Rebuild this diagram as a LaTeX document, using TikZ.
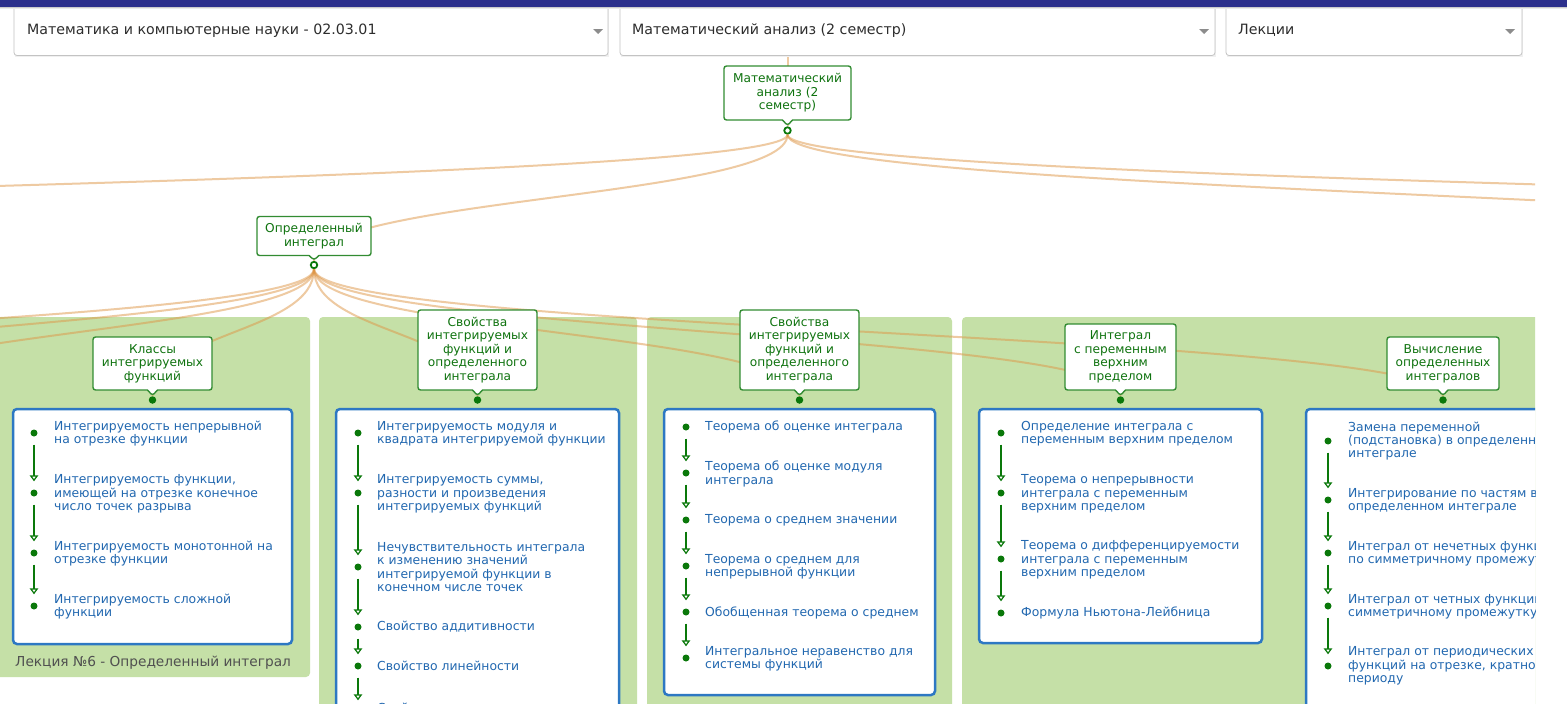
\documentclass[tikz,border=0pt]{standalone}
\usepackage{fontspec}
\setmainfont{DejaVu Sans}
\usetikzlibrary{shapes.callouts, arrows.meta, calc}

\definecolor{barblue}{RGB}{44,48,140}
\definecolor{edgeor}{RGB}{222,150,70}
\definecolor{panelgreen}{RGB}{197,224,167}
\definecolor{boxblue}{RGB}{45,120,195}
\definecolor{itemblue}{RGB}{34,104,176}
\definecolor{nodegreen}{RGB}{50,140,50}
\definecolor{textgreen}{RGB}{15,115,15}
\definecolor{dotgreen}{RGB}{10,120,10}
\definecolor{ddgray}{RGB}{195,195,195}
\definecolor{ddtext}{RGB}{45,45,45}
\definecolor{labelgray}{RGB}{80,80,80}

\newcommand\myitemfont{\fontsize{12.4}{13.3}\selectfont}
\newcommand\mytopicfont{\fontsize{12.2}{13.6}\selectfont}
\newcommand\myddfont{\fontsize{14.2}{16}\selectfont}
\newcommand\mylblfont{\fontsize{13.7}{16}\selectfont}

\newcommand\tie[2]{\path ($(#1)!.5!(#2)$) coordinate (mm);
  \draw[edge] (#1) .. controls (#1 |- mm) and (#2 |- mm) .. (#2);}

\tikzset{
 edge/.style={draw=edgeor, draw opacity=0.5, line width=2pt},
 panel/.style={fill=panelgreen, rounded corners=4pt},
 topic/.style={rectangle callout, draw=nodegreen, line width=1.4pt, fill=white,
   rounded corners=2.5pt, align=center, text=textgreen, font=\mytopicfont,
   inner sep=0pt, callout pointer width=10pt},
 ring/.style={circle, draw=dotgreen, line width=1.8pt, fill=white, inner sep=0pt, minimum size=6.5pt},
 gdot/.style={circle, fill=dotgreen, inner sep=0pt, minimum size=7.5pt},
 idot/.style={circle, fill=dotgreen, inner sep=0pt, minimum size=7pt},
 ibox/.style={draw=boxblue, line width=2.5pt, fill=white, rounded corners=4pt},
 item/.style={anchor=west, align=left, inner sep=0pt, text=itemblue, font=\myitemfont},
 flow/.style={draw=dotgreen, line width=1.3pt, shorten <=8pt, shorten >=8pt,
   -{Triangle[open, width=8.5pt, length=6pt, line width=1.2pt]}},
 ddbox/.style={draw=ddgray, fill=white, rounded corners=3pt, line width=0.8pt},
 ddtxt/.style={anchor=west, inner sep=0pt, text=ddtext, font=\myddfont},
 ddarrow/.style={fill=black!45},
 lbl/.style={anchor=west, inner sep=0pt, text=labelgray, font=\mylblfont},
}

\begin{document}
\begin{tikzpicture}[x=1pt,y=-1pt]
\useasboundingbox (0,0) rectangle (1567,704);
\fill[white] (0,0) rectangle (1567,704);

\begin{scope}
\clip (0,0) rectangle (1535,704);
% lecture panels
\fill[panel] (-10,317) rectangle (310,677);
\fill[panel] (319,317) rectangle (637,720);
\fill[panel] (647,317) rectangle (952,720);
\fill[panel] (962,317) rectangle (1560,720);
\node[lbl] (lab) at (15,663) {Лекция №6 - Определенный интеграл};

% connection points
\node[ring] (rr) at (787.5,130.5) {};
\node[ring] (ri) at (314,265) {};
\node[gdot] (dKl) at (152.5,400) {};
\node[gdot] (dS1) at (477.5,400) {};
\node[gdot] (dS2) at (799.5,400) {};
\node[gdot] (dIn) at (1120.5,400) {};
\node[gdot] (dVy) at (1443,400) {};
\coordinate (upR) at (787.5,40);
\coordinate (offA) at (-1700,265);
\coordinate (offB) at (3318,265);
\coordinate (offC) at (2198,265);
\coordinate (offD) at (-798,400);
\coordinate (offE) at (-464,400);
\coordinate (offF) at (-170,400);

% tree edges
\draw[edge] (upR) -- (rr);
\tie{rr}{offA}
\tie{rr}{ri}
\tie{rr}{offB}
\tie{rr}{offC}
\tie{ri}{offD}
\tie{ri}{offE}
\tie{ri}{offF}
\tie{ri}{dKl}
\tie{ri}{dS1}
\tie{ri}{dS2}
\tie{ri}{dIn}
\tie{ri}{dVy}

% topic nodes
\node[topic, minimum width=127pt, minimum height=54pt, callout absolute pointer={(787.5,125.5)}]
  (root) at (787.5,93) {Математический\\анализ (2\\семестр)};
\node[topic, minimum width=114pt, minimum height=39pt, callout absolute pointer={(314,260)}]
  (opr) at (314,236) {Определенный\\интеграл};
\node[topic, minimum width=119pt, minimum height=53pt, callout absolute pointer={(152.5,395.5)}]
  (kl) at (152.5,363.5) {Классы\\интегрируемых\\функций};
\node[topic, minimum width=119pt, minimum height=80pt, callout absolute pointer={(477.5,395.5)}]
  (s1) at (477.5,350) {Свойства\\интегрируемых\\функций и\\определенного\\интеграла};
\node[topic, minimum width=119pt, minimum height=80pt, callout absolute pointer={(799.5,395.5)}]
  (s2) at (799.5,350) {Свойства\\интегрируемых\\функций и\\определенного\\интеграла};
\node[topic, minimum width=111pt, minimum height=66pt, callout absolute pointer={(1120.5,395.5)}]
  (in) at (1120.5,357) {Интеграл\\с переменным\\верхним\\пределом};
\node[topic, minimum width=112pt, minimum height=53pt, callout absolute pointer={(1443,395.5)}]
  (vy) at (1443,363.5) {Вычисление\\определенных\\интегралов};

% topic boxes
\draw[ibox] (13,409) rectangle (292,644);
\draw[ibox] (336,409) rectangle (619,730);
\draw[ibox] (664,409) rectangle (935,695);
\draw[ibox] (979,409) rectangle (1262,643);
\draw[ibox] (1306,409) rectangle (1580,730);

% box 1
\node[idot] (a1) at (34,433) {};
\node[idot] (a2) at (34,493) {};
\node[idot] (a3) at (34,553) {};
\node[idot] (a4) at (34,606) {};
\node[item] (ta1) at (54,433.5) {Интегрируемость непрерывной\\на отрезке функции};
\node[item] (ta2) at (54,494) {Интегрируемость функции,\\имеющей на отрезке конечное\\число точек разрыва};
\node[item] (ta3) at (54,553.5) {Интегрируемость монотонной на\\отрезке функции};
\node[item] (ta4) at (54,606.5) {Интегрируемость сложной\\функции};
\draw[flow] (a1) -- (a2);
\draw[flow] (a2) -- (a3);
\draw[flow] (a3) -- (a4);

% box 2
\node[idot] (b1) at (358,433) {};
\node[idot] (b2) at (358,493) {};
\node[idot] (b3) at (358,567) {};
\node[idot] (b4) at (358,627) {};
\node[idot] (b5) at (358,666) {};
\node[idot] (b6) at (358,712) {};
\node[item] (tb1) at (377,433.5) {Интегрируемость модуля и\\квадрата интегрируемой функции};
\node[item] (tb2) at (377,494) {Интегрируемость суммы,\\разности и произведения\\интегрируемых функций};
\node[item] (tb3) at (377,567) {Нечувствительность интеграла\\к изменению значений\\интегрируемой функции в\\конечном числе точек};
\node[item] (tb4) at (377,627) {Свойство аддитивности};
\node[item] (tb5) at (377,666) {Свойство линейности};
\node[item] (tb6) at (377,707.5) {Свойство};
\draw[flow] (b1) -- (b2);
\draw[flow] (b2) -- (b3);
\draw[flow] (b3) -- (b4);
\draw[flow] (b4) -- (b5);
\draw[flow] (b5) -- (b6);

% box 3
\node[idot] (c1) at (686,427) {};
\node[idot] (c2) at (686,473) {};
\node[idot] (c3) at (686,520) {};
\node[idot] (c4) at (686,566) {};
\node[idot] (c5) at (686,612) {};
\node[idot] (c6) at (686,658) {};
\node[item] (tc1) at (705,427) {Теорема об оценке интеграла};
\node[item] (tc2) at (705,474) {Теорема об оценке модуля\\интеграла};
\node[item] (tc3) at (705,520) {Теорема о среднем значении};
\node[item] (tc4) at (705,566.5) {Теорема о среднем для\\непрерывной функции};
\node[item] (tc5) at (705,612.5) {Обобщенная теорема о среднем};
\node[item] (tc6) at (705,658.5) {Интегральное неравенство для\\системы функций};
\draw[flow] (c1) -- (c2);
\draw[flow] (c2) -- (c3);
\draw[flow] (c3) -- (c4);
\draw[flow] (c4) -- (c5);
\draw[flow] (c5) -- (c6);

% box 4
\node[idot] (e1) at (1001,433) {};
\node[idot] (e2) at (1001,493) {};
\node[idot] (e3) at (1001,559) {};
\node[idot] (e4) at (1001,613) {};
\node[item] (te1) at (1021,433.5) {Определение интеграла с\\переменным верхним пределом};
\node[item] (te2) at (1021,494) {Теорема о непрерывности\\интеграла с переменным\\верхним пределом};
\node[item] (te3) at (1021,560) {Теорема о дифференцируемости\\интеграла с переменным\\верхним пределом};
\node[item] (te4) at (1021,613) {Формула Ньютона-Лейбница};
\draw[flow] (e1) -- (e2);
\draw[flow] (e2) -- (e3);
\draw[flow] (e3) -- (e4);

% box 5
\node[idot] (f1) at (1328,441) {};
\node[idot] (f2) at (1328,500) {};
\node[idot] (f3) at (1328,553) {};
\node[idot] (f4) at (1328,606) {};
\node[idot] (f5) at (1328,666) {};
\node[item] (tf1) at (1348,441) {Замена переменной\\(подстановка) в определенном\\интеграле};
\node[item] (tf2) at (1348,500.5) {Интегрирование по частям в\\определенном интеграле};
\node[item] (tf3) at (1348,553.5) {Интеграл от нечетных функций\\по симметричному промежутку};
\node[item] (tf4) at (1348,606.5) {Интеграл от четных функций по\\симметричному промежутку};
\node[item] (tf5) at (1348,666) {Интеграл от периодических\\функций на отрезке, кратном\\периоду};
\draw[flow] (f1) -- (f2);
\draw[flow] (f2) -- (f3);
\draw[flow] (f3) -- (f4);
\draw[flow] (f4) -- (f5);
\end{scope}

% selectors
\fill[black!6] (15,-5) rectangle (609,57);
\fill[black!6] (621,-5) rectangle (1216,57);
\fill[black!6] (1227,-5) rectangle (1523,57);
\draw[ddbox] (14,-5) rectangle (608,55.5);
\draw[ddbox] (620,-5) rectangle (1215,55.5);
\draw[ddbox] (1226,-5) rectangle (1522,55.5);
\node[ddtxt] (dd1) at (27,30.5) {Математика и компьютерные науки - 02.03.01};
\node[ddtxt] (dd2) at (632,30.5) {Математический анализ (2 семестр)};
\node[ddtxt] (dd3) at (1238,30.5) {Лекции};
\fill[ddarrow] (593,29) -- (603,29) -- (598,34) -- cycle;
\fill[ddarrow] (1199,29) -- (1209,29) -- (1204,34) -- cycle;
\fill[ddarrow] (1505,29) -- (1515,29) -- (1510,34) -- cycle;

% top bar
\fill[black!20] (0,6.5) rectangle (1567,7.6);
\fill[black!8] (0,7.6) rectangle (1567,9);
\fill[barblue] (0,0) rectangle (1567,6.5);
\end{tikzpicture}
\end{document}
